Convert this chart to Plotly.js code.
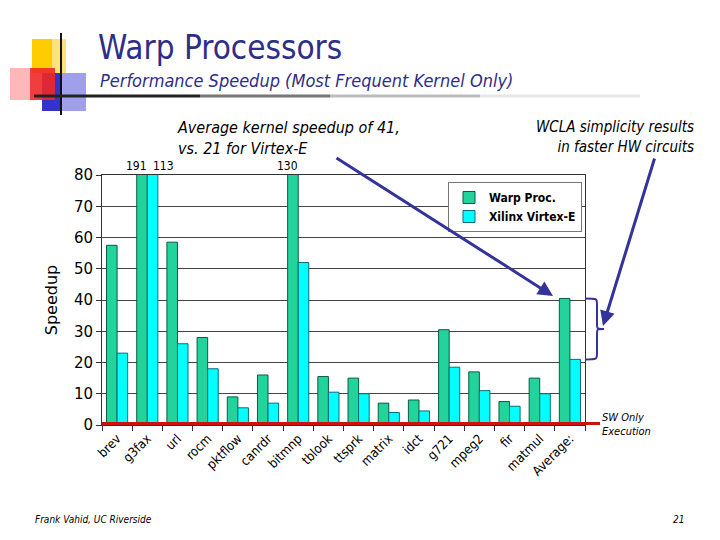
<!DOCTYPE html>
<html>
<head>
<meta charset="utf-8">
<script src="https://cdn.plot.ly/plotly-3.0.1.min.js"></script>
<style>
  html, body { margin: 0; padding: 0; background: #fff; }
  #chart { width: 720px; height: 540px; }
</style>
</head>
<body>
<div id="chart"></div>
<script>
"use strict";

const kernels = ["brev", "g3fax", "url", "rocm", "pktflow", "canrdr", "bitmnp", "tblook",
    "ttsprk", "matrix", "idct", "g721", "mpeg2", "fir", "matmul", "Average:"];
const warpProc = [57.5, 191, 58.5, 28, 9, 16, 130, 15.5, 15, 7, 8, 30.5, 17, 7.5, 15, 40.5];
const xilinxVirtexE = [23, 113, 26, 18, 5.5, 7, 52, 10.5, 10, 4, 4.5, 18.5, 11, 6, 10, 21];
const yMax = 80;

// plot area in pixels: left 102, right 585, top 175, bottom 425
const PL = 102, PR = 585, PT = 175, PB = 425;
const px = x => (x - PL) / (PR - PL);
const py = y => (PB - y) / (PB - PT);

const navy = "#2E2E86";
const arrowBlue = "#333399";

const traces = [
    {
        type: "bar", name: "Warp Proc.", x: kernels, y: warpProc,
        marker: { color: "#22D49C", line: { color: "#0C5A44", width: 1 } }
    },
    {
        type: "bar", name: "Xilinx Virtex-E", x: kernels, y: xilinxVirtexE,
        marker: { color: "#00FFFF", line: { color: "#0A6E78", width: 1 } }
    }
];

// labels for bars running off the top of the axis
const overflow = [];
kernels.forEach((k, i) => {
    if (warpProc[i] > yMax) overflow.push({ x: k, y: yMax, text: String(warpProc[i]), xshift: -11 });
    if (xilinxVirtexE[i] > yMax) overflow.push({ x: k, y: yMax, text: String(xilinxVirtexE[i]), xshift: 16 });
});

const overflowNotes = overflow.map(o => ({
    xref: "x", yref: "y", x: o.x, y: o.y, text: o.text, xshift: o.xshift,
    yanchor: "bottom", showarrow: false,
    font: { family: "DejaVu Sans Condensed", size: 12, color: "#000" }
}));

const pnote = (x, y, text, opts) => Object.assign({
    xref: "paper", yref: "paper", x: px(x), y: py(y), text: text, showarrow: false
}, opts);

const annotations = overflowNotes.concat([
    pnote(98, 80, "<i>Performance Speedup (Most Frequent Kernel Only)</i>", {
        xanchor: "left", yanchor: "middle",
        font: { family: "DejaVu Sans Condensed", size: 18, color: navy }
    }),
    pnote(175, 138, "<i>Average kernel speedup of 41,<br>vs. 21 for Virtex-E</i>", {
        xanchor: "left", yanchor: "middle", align: "left",
        font: { family: "DejaVu Sans Condensed", size: 16, color: "#000" }
    }),
    pnote(696, 137, "<i>WCLA simplicity results<br>in faster HW circuits</i>", {
        xanchor: "right", yanchor: "middle", align: "right",
        font: { family: "DejaVu Sans Condensed", size: 15, color: "#000" }
    }),
    pnote(600, 424, "<i>SW Only<br>Execution</i>", {
        xanchor: "left", yanchor: "middle", align: "left",
        font: { family: "DejaVu Sans Condensed", size: 11, color: "#000" }
    }),
    pnote(33, 519, "<i>Frank Vahid, UC Riverside</i>", {
        xanchor: "left", yanchor: "middle",
        font: { family: "DejaVu Sans Condensed", size: 10, color: "#000" }
    }),
    pnote(686, 519, "<i>21</i>", {
        xanchor: "right", yanchor: "middle",
        font: { family: "DejaVu Sans Condensed", size: 10, color: "#000" }
    }),
    // arrows
    {
        xref: "paper", yref: "paper", x: px(553), y: py(296), ax: 335 - 553, ay: 157 - 296,
        text: "", showarrow: true, arrowhead: 2, arrowsize: 1, arrowwidth: 3, arrowcolor: arrowBlue
    },
    {
        xref: "paper", yref: "paper", x: px(603), y: py(326), ax: 655 - 603, ay: 157 - 326,
        text: "", showarrow: true, arrowhead: 2, arrowsize: 1, arrowwidth: 3, arrowcolor: arrowBlue
    }
]);

// curly brace beside the Average bars
const last = warpProc.length - 1;
const yTop = warpProc[last], yBot = xilinxVirtexE[last], yMid = (yTop + yBot) / 2;
const bx0 = px(585), bx1 = px(597), bx2 = px(604);
const bracePath =
    `M ${bx0},${yTop} C ${bx1},${yTop} ${bx1},${yTop} ${bx1},${yTop - 2} ` +
    `L ${bx1},${yMid + 1.5} C ${bx1},${yMid} ${bx1},${yMid} ${bx2},${yMid} ` +
    `C ${bx1},${yMid} ${bx1},${yMid} ${bx1},${yMid - 1.5} ` +
    `L ${bx1},${yBot + 2} C ${bx1},${yBot} ${bx1},${yBot} ${bx0},${yBot}`;

const prect = (x0, y0, x1, y1, color, opacity) => ({
    type: "rect", xref: "paper", yref: "paper", layer: "below",
    x0: px(x0), x1: px(x1), y0: py(y1), y1: py(y0),
    fillcolor: color, opacity: opacity, line: { width: 0 }
});
const pline = (x0, y0, x1, y1, color, width, opacity) => ({
    type: "line", xref: "paper", yref: "paper",
    x0: px(x0), x1: px(x1), y0: py(y0), y1: py(y1),
    opacity: opacity === undefined ? 1 : opacity,
    line: { color: color, width: width }
});

const shapes = [
    // title decoration
    prect(32, 39, 52, 73, "#FFCC00", 1),
    prect(52, 39, 66, 73, "#FFE27A", 1),
    prect(42, 73, 62, 111, "#3333CC", 1),
    prect(62, 73, 86, 111, "#A0A0EA", 1),
    prect(10, 68, 30, 100, "#FFB0B0", 0.9),
    prect(30, 68, 55, 100, "#EE2828", 0.9),
    pline(61, 33, 61, 115, "#111", 2),
    pline(34, 96, 200, 96, "#222", 3),
    pline(200, 96, 330, 96, "#777", 3),
    pline(330, 96, 480, 96, "#bbb", 3),
    pline(480, 96, 640, 96, "#e6e6e6", 3),
    // SW-only baseline
    {
        type: "line", xref: "paper", yref: "y", x0: 0, x1: px(600), y0: 0.3, y1: 0.3,
        line: { color: "#CC1111", width: 4 }
    },
    {
        type: "path", xref: "paper", yref: "y", path: bracePath,
        line: { color: arrowBlue, width: 2 }
    }
];

const layout = {
    width: 720,
    height: 540,
    margin: { l: PL, r: 720 - PR, t: PT, b: 540 - PB },
    paper_bgcolor: "#fff",
    plot_bgcolor: "#fff",
    barmode: "group",
    bargap: 0.3,
    bargroupgap: 0,
    title: {
        text: "Warp Processors",
        x: 98 / 720, xanchor: "left", xref: "container",
        y: 1 - 47 / 540, yanchor: "middle", yref: "container",
        font: { family: "DejaVu Sans Condensed", size: 33, color: navy }
    },
    showlegend: true,
    legend: {
        x: px(448), y: py(182), xanchor: "left", yanchor: "top",
        bgcolor: "#fff", bordercolor: "#777", borderwidth: 1,
        font: { family: "DejaVu Sans Condensed", size: 12, color: "#000", weight: "bold" },
        itemwidth: 30, tracegroupgap: 0
    },
    xaxis: {
        type: "category",
        tickangle: -45,
        tickson: "boundaries",
        ticks: "outside", ticklen: 5, tickcolor: "#333",
        showline: true, linecolor: "#333", mirror: true,
        showgrid: false,
        tickfont: { family: "DejaVu Sans Condensed", size: 13, color: "#000" }
    },
    yaxis: {
        range: [0, yMax],
        dtick: 10,
        ticks: "outside", ticklen: 5, tickcolor: "#333",
        showline: true, linecolor: "#333", mirror: true,
        gridcolor: "#444", gridwidth: 1,
        zeroline: false,
        tickfont: { family: "DejaVu Sans", size: 15, color: "#000" },
        title: {
            text: "Speedup", standoff: 12,
            font: { family: "DejaVu Sans", size: 16, color: "#000" }
        }
    },
    annotations: annotations,
    shapes: shapes
};

Plotly.newPlot("chart", traces, layout, { displayModeBar: false, staticPlot: true });
</script>
</body>
</html>
